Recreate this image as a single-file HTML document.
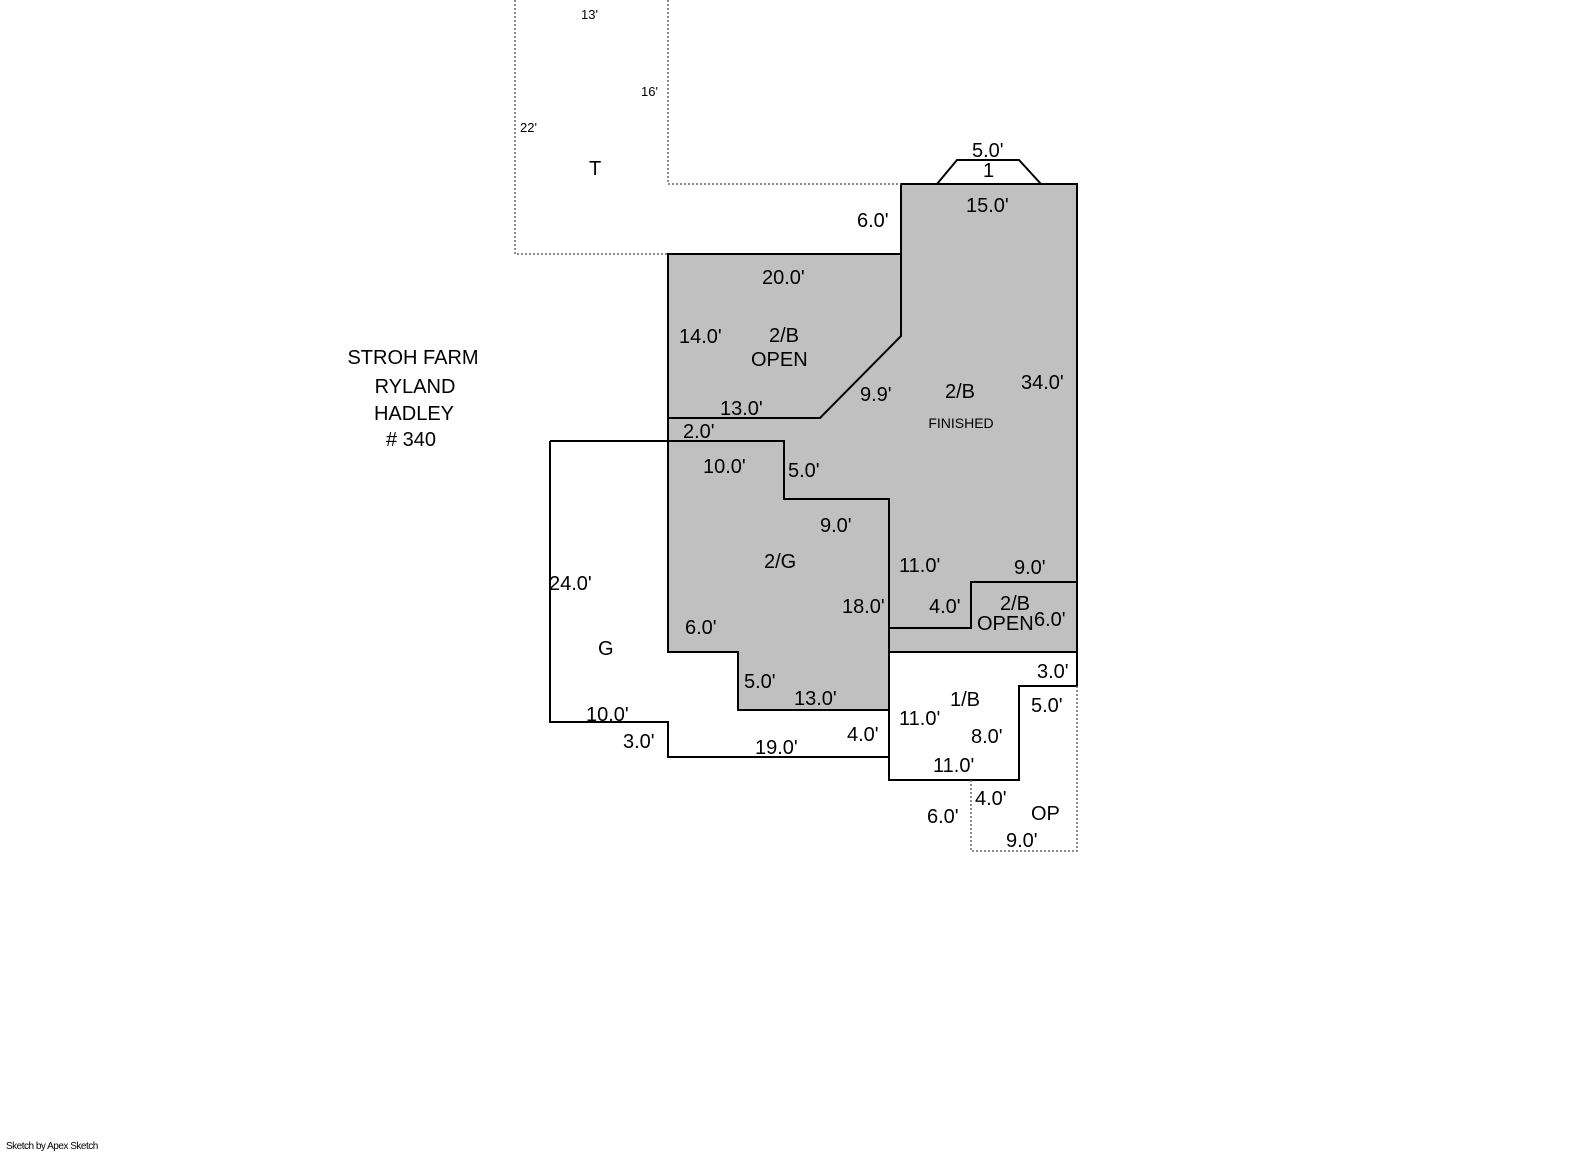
<!DOCTYPE html>
<html><head><style>body{margin:0;background:#fff}svg{display:block}text{font-family:"Liberation Sans",Arial,sans-serif;fill:#000}</style></head><body>
<svg width="1585" height="1163" viewBox="0 0 1585 1163">
<polygon points="668,254 901,254 901,184 1077,184 1077,652 889,652 889,710 738,710 738,652 668,652" fill="#c0c0c0" stroke="#000" stroke-width="2"/>
<g fill="none" stroke="#000" stroke-width="2">
<polyline points="668,418 820,418 901,336 901,254"/>
<polyline points="937,184 957,160 1019,160 1041,184"/>
<polyline points="550,441 784,441 784,499 889,499 889,780 1019,780 1019,686 1077,686 1077,652"/>
<polyline points="550,441 550,722 668,722 668,757 889,757"/>
<polyline points="889,628 971,628 971,582 1077,582"/>
</g>
<g fill="none" stroke="#666" stroke-width="1.5" stroke-dasharray="2,2">
<polyline points="515,0 515,254 668,254"/>
<polyline points="668,0 668,184 901,184"/>
<polyline points="971,780 971,851 1077,851 1077,686"/>
</g>
<g font-size="13">
<text x="581" y="19">13'</text><text x="641" y="96">16'</text><text x="520" y="132">22'</text>
</g>
<g font-size="20">
<text x="589" y="175">T</text>
<text x="972" y="157">5.0'</text><text x="983" y="177">1</text>
<text x="966" y="212">15.0'</text><text x="857" y="227">6.0'</text>
<text x="762" y="284">20.0'</text><text x="679" y="343">14.0'</text>
<text x="769" y="342">2/B</text><text x="751" y="366">OPEN</text>
<text x="1021" y="389">34.0'</text><text x="860" y="401">9.9'</text><text x="945" y="398">2/B</text>
<text x="720" y="415">13.0'</text><text x="683" y="438">2.0'</text>
<text x="703" y="473">10.0'</text><text x="788" y="477">5.0'</text>
<text x="820" y="532">9.0'</text><text x="764" y="568">2/G</text>
<text x="899" y="572">11.0'</text><text x="1014" y="574">9.0'</text>
<text x="549" y="590">24.0'</text>
<text x="842" y="613">18.0'</text><text x="929" y="613">4.0'</text>
<text x="1000" y="610">2/B</text><text x="977" y="630">OPEN</text><text x="1034" y="626">6.0'</text>
<text x="685" y="634">6.0'</text><text x="598" y="655">G</text>
<text x="1037" y="678">3.0'</text>
<text x="744" y="688">5.0'</text><text x="950" y="706">1/B</text><text x="1031" y="712">5.0'</text>
<text x="794" y="705">13.0'</text><text x="586" y="721">10.0'</text>
<text x="899" y="725">11.0'</text>
<text x="847" y="741">4.0'</text><text x="971" y="743">8.0'</text>
<text x="623" y="748">3.0'</text><text x="755" y="754">19.0'</text>
<text x="933" y="772">11.0'</text>
<text x="975" y="805">4.0'</text><text x="1031" y="820">OP</text><text x="927" y="823">6.0'</text>
<text x="1006" y="847">9.0'</text>
<text x="413" y="364" text-anchor="middle">STROH FARM</text>
<text x="415" y="393" text-anchor="middle">RYLAND</text>
<text x="414" y="420" text-anchor="middle">HADLEY</text>
<text x="411" y="446" text-anchor="middle"># 340</text>
</g>
<text x="961" y="428" font-size="14" text-anchor="middle">FINISHED</text>
<text x="6" y="1149" font-size="10" letter-spacing="-0.5">Sketch by Apex Sketch</text>
</svg>
</body></html>
